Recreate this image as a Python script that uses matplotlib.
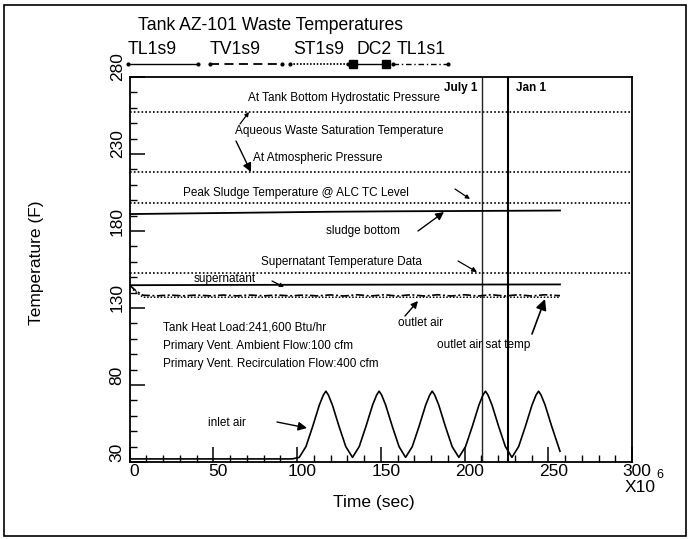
import matplotlib
matplotlib.use("Agg")
import matplotlib.pyplot as plt
import matplotlib.transforms as mtransforms
from matplotlib.lines import Line2D
from matplotlib.patches import Rectangle
from matplotlib.ticker import FixedLocator, MultipleLocator

plt.rcParams['font.family'] = ['Liberation Sans', 'DejaVu Sans']

W, H = 689, 539

# ---------------- data ----------------
x_major = [0, 50, 100, 150, 200, 250, 300]
y_major = [30, 80, 130, 180, 230, 280]

tank_bottom_sat = 257.0
atmospheric_sat = 218.5
peak_sludge = 198.0
supernatant_data = 153.0

july1_time = 210.5
jan1_time = 226.0

sludge_time = [0, 40, 80, 120, 160, 200, 240, 257]
sludge_temp = [191.0, 191.5, 192.0, 192.5, 192.8, 193.0, 193.2, 193.3]

supernatant_time = [0, 60, 120, 180, 257]
supernatant_temp = [144.8, 145.0, 145.1, 145.2, 145.3]

outlet_time = [0, 4, 8, 16, 24, 32, 40, 48, 56, 64, 72, 80, 88, 96, 104, 112,
               120, 128, 136, 144, 152, 160, 168, 176, 184, 192, 200, 208,
               216, 224, 232, 240, 248, 257]
outlet_temp = [144.8, 141.0, 138.3, 137.9, 138.4, 137.9, 138.4, 137.9, 138.4,
               137.9, 138.4, 137.9, 138.4, 137.9, 138.4, 137.9, 138.5, 137.8,
               138.6, 137.8, 138.6, 137.8, 138.6, 137.8, 138.6, 137.8, 138.6,
               137.8, 138.6, 137.8, 138.6, 137.8, 138.6, 138.0]

outlet_sat_time = [2, 8, 40, 80, 120, 160, 200, 240, 257]
outlet_sat_temp = [142.0, 137.0, 137.0, 137.0, 137.0, 137.0, 137.0, 137.0, 137.0]

inlet_time = [0, 20, 40, 60, 80, 97, 101.3,
              105.3, 109.3, 113.3, 115.7, 117.2, 118.7, 121.1, 125.1, 129.1, 133.1,
              137.1, 141.1, 145.1, 147.5, 149.0, 150.5, 152.9, 156.9, 160.9, 164.8,
              168.8, 172.8, 176.8, 179.2, 180.7, 182.2, 184.6, 188.6, 192.6, 196.6,
              200.6, 204.6, 208.6, 211.0, 212.5, 214.0, 216.4, 220.4, 224.4, 228.3,
              232.3, 236.3, 240.3, 242.7, 244.2, 245.7, 248.1, 252.1, 257.0]
inlet_temp = [32, 32, 32, 32, 32, 32, 33,
              40, 53, 67, 73.5, 76, 73.5, 67, 53, 40, 33,
              40, 53, 67, 73.5, 76, 73.5, 67, 53, 40, 33,
              40, 53, 67, 73.5, 76, 73.5, 67, 53, 40, 33,
              40, 53, 67, 73.5, 76, 73.5, 67, 53, 40, 33,
              40, 53, 67, 73.5, 76, 73.5, 67, 53, 37]

legend_labels = ["TL1s9", "TV1s9", "ST1s9", "DC2", "TL1s1"]

# ---------------- figure ----------------
fig = plt.figure(figsize=(W / 100, H / 100), dpi=100)
fig.patch.set_facecolor("white")

x0_px, x1_px, ytop_px, ybot_px = 129.6, 632.0, 77.0, 462.0
ax = fig.add_axes([x0_px / W, 1 - ybot_px / H, (x1_px - x0_px) / W, (ybot_px - ytop_px) / H])
ax.set_xlim(0, 300)
ax.set_ylim(30, 280)
for s in ax.spines.values():
    s.set_linewidth(1.3)

ax.xaxis.set_major_locator(FixedLocator(x_major))
ax.yaxis.set_major_locator(FixedLocator(y_major))
ax.xaxis.set_minor_locator(MultipleLocator(10))
ax.yaxis.set_minor_locator(MultipleLocator(10))
ax.tick_params(which='major', direction='in', length=10.5, width=1.1, labelsize=12.5)
ax.tick_params(which='minor', direction='in', length=5, width=1.0)
ax.tick_params(axis='x', which='major', pad=1.5)
ax.tick_params(axis='y', which='major', pad=3.5)
ax.set_xticklabels([str(v) for v in x_major])
ax.set_yticklabels([str(v) for v in y_major], rotation=90, va='center')

# reference (dotted) lines
dot = (0, (1, 1.3))
for lvl in [tank_bottom_sat, atmospheric_sat, peak_sludge, supernatant_data]:
    ax.axhline(lvl, color='black', lw=1.2, linestyle=dot)

# vertical date lines
ax.axvline(july1_time, color='#222222', lw=1.0)
ax.axvline(jan1_time, color='black', lw=1.5)
ax.text(july1_time - 3, 273, "July 1", ha='right', va='center', fontsize=8.5,
        fontweight='bold')
ax.text(jan1_time + 5, 273, "Jan 1", ha='left', va='center', fontsize=8.5,
        fontweight='bold')

# series
ax.plot(sludge_time, sludge_temp, color='black', lw=1.3)
ax.plot(supernatant_time, supernatant_temp, color='black', lw=1.3)
ax.plot(outlet_time, outlet_temp, color='black', lw=1.2, linestyle=(0, (5, 1.5, 1.2, 1.5)))
ax.plot(outlet_sat_time, outlet_sat_temp, color='black', lw=1.1, linestyle=(0, (1, 1.2)))
ax.plot(inlet_time, inlet_temp, color='black', lw=1.2)


def px(xp, yp):
    """pixel -> data coordinates"""
    t = (xp - x0_px) / (x1_px - x0_px) * 300
    T = 280 - (yp - ytop_px) / (ybot_px - ytop_px) * 250
    return t, T


fs = 8.5
texts = [
    ("At Tank Bottom Hydrostatic Pressure", 248, 98),
    ("Aqueous Waste Saturation Temperature", 235, 131),
    ("At Atmospheric Pressure", 253, 158),
    ("Peak Sludge Temperature @ ALC TC Level", 183, 193),
    ("sludge bottom", 326, 231),
    ("Supernatant Temperature Data", 261, 262),
    ("supernatant", 194, 279),
    ("outlet air", 398, 323),
    ("outlet air sat temp", 437, 345),
    ("Tank Heat Load:241,600 Btu/hr", 163, 328),
    ("Primary Vent. Ambient Flow:100 cfm", 163, 346),
    ("Primary Vent. Recirculation Flow:400 cfm", 163, 364),
    ("inlet air", 208, 423),
]
for s, xp, yp in texts:
    ax.text(*px(xp, yp), s, ha='left', va='center', fontsize=fs)

arrows = [
    ((240, 124), (249, 112), 6, 0.9),
    ((236, 141), (251, 172), 13, 1.0),
    ((455, 189), (470, 199), 6, 0.9),
    ((418, 231), (444, 212), 12, 1.0),
    ((458, 261), (477, 272), 7, 0.9),
    ((272, 281), (284, 287), 6, 0.9),
    ((405, 316), (418, 301), 10, 1.0),
    ((532, 334), (545, 299), 16, 1.2),
    ((277, 422), (307, 428), 13, 1.0),
]
for (sx, sy), (ex, ey), ms, lw in arrows:
    ax.annotate("", xy=px(ex, ey), xytext=px(sx, sy),
                arrowprops=dict(arrowstyle='-|>', mutation_scale=ms, lw=lw,
                                color='black', shrinkA=0, shrinkB=0))

# plotter-style tick-label offsets
off_x = mtransforms.ScaledTranslation(5 / 100, 0, fig.dpi_scale_trans)
off_y = mtransforms.ScaledTranslation(0, 10 / 100, fig.dpi_scale_trans)
for tk in ax.xaxis.get_major_ticks():
    tk.label1.set_transform(tk.label1.get_transform() + off_x)
for tk in ax.yaxis.get_major_ticks():
    tk.label1.set_transform(tk.label1.get_transform() + off_y)

# ---------------- figure-level text ----------------
def F(xp, yp):
    return xp / W, 1 - yp / H

fig.text(*F(138, 25), "Tank AZ-101 Waste Temperatures", fontsize=12.7, ha='left', va='center')

label_x = [128, 210, 293, 356, 397]
for lab, xp in zip(legend_labels, label_x):
    fig.text(*F(xp, 50), lab, fontsize=12.7, ha='left', va='center')

ly = 1 - 64 / H
lines = [
    Line2D([128 / W, 198 / W], [ly, ly], color='black', lw=1.0, marker='.', markersize=4,
           transform=fig.transFigure),
    Line2D([210 / W, 282 / W], [ly, ly], color='black', lw=1.3, linestyle=(0, (5, 3)),
           marker='.', markersize=4, transform=fig.transFigure),
    Line2D([290 / W, 348 / W], [ly, ly], color='black', lw=1.2, linestyle=(0, (1, 1)),
           marker='.', markersize=4, transform=fig.transFigure),
    Line2D([353 / W, 386 / W], [ly, ly], color='black', lw=1.0, marker='s', markersize=6,
           transform=fig.transFigure),
    Line2D([393 / W, 448 / W], [ly, ly], color='black', lw=1.0, linestyle=(0, (4, 2, 1, 2)),
           marker='.', markersize=4, transform=fig.transFigure),
]
for ln in lines:
    fig.add_artist(ln)

fig.text(*F(37, 263), "Temperature (F)", fontsize=12.5, rotation=90, ha='center', va='center')
fig.text(*F(374, 502), "Time (sec)", fontsize=12.5, ha='center', va='center')
fig.text(*F(640, 487), "X10", fontsize=12.5, ha='center', va='center')
fig.text(*F(660, 475), "6", fontsize=9, ha='center', va='center')

fig.add_artist(Rectangle((4 / W, 1 - 536 / H), (686 - 4) / W, (536 - 5) / H,
                         transform=fig.transFigure, fill=False, lw=1.2, ec='black'))

fig.savefig("out.png", dpi=100, facecolor=fig.get_facecolor())
